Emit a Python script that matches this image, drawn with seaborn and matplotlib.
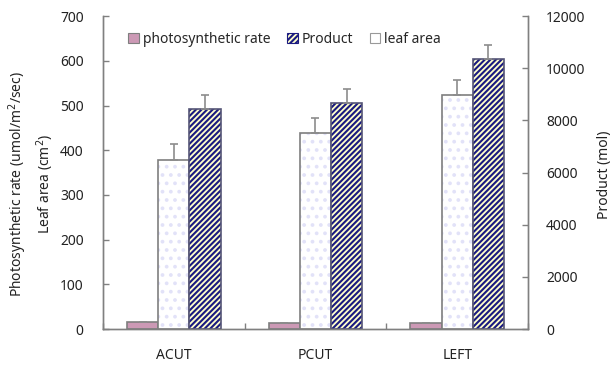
import matplotlib
matplotlib.use("Agg")
import matplotlib.pyplot as plt
from matplotlib.patches import Patch, Rectangle
import numpy as np
import pandas as pd
import seaborn as sns

# Treatments and measured means / standard errors
treatments = ["ACUT", "PCUT", "LEFT"]
photo_rate = [15.5, 13.0, 13.0]          # umol/m2/sec
photo_err = [0.5, 1.0, 1.0]
leaf_area = [379, 439, 524]              # cm2
leaf_err = [35, 33, 33]
product = [8450, 8670, 10360]            # mol
product_err = [540, 540, 540]

series_order = ["photosynthetic rate", "leaf area", "Product"]
left_ticks = [0, 100, 200, 300, 400, 500, 600, 700]
right_ticks = [0, 2000, 4000, 6000, 8000, 10000, 12000]

sns.set_theme(style="white")
plt.rcParams["font.family"] = ["Noto Sans", "DejaVu Sans"]
plt.rcParams["hatch.linewidth"] = 1.5

left_df = pd.DataFrame({
    "treatment": treatments * 2,
    "series": ["photosynthetic rate"] * 3 + ["leaf area"] * 3,
    "value": photo_rate + leaf_area,
})
right_df = pd.DataFrame({
    "treatment": treatments,
    "series": ["Product"] * 3,
    "value": product,
})

fig = plt.figure(figsize=(6.15, 3.65), dpi=100)
ax = fig.add_axes([0.1675, 0.0986, 0.691, 0.857])
ax2 = ax.twinx()

edge_grey = "#7f7f7f"
pink = "#cc99b5"
navy = "#1a1a80"
cream = "#ffffcc"
dot = "#e2e2f8"

# three dodge slots per treatment; left axis fills the first two, right axis the third
sns.barplot(data=left_df, x="treatment", y="value", hue="series",
            order=treatments, hue_order=series_order, width=0.66, dodge=True,
            errorbar=None, legend=False, ax=ax)
sns.barplot(data=right_df, x="treatment", y="value", hue="series",
            order=treatments, hue_order=series_order, width=0.66, dodge=True,
            errorbar=None, legend=False, ax=ax2)


def style_bar(p, face, edge, hatch=None, hatch_color=None, lw=1.2):
    p.set_facecolor(face)
    p.set_linewidth(lw)
    if hatch:
        p.set_hatch(hatch)
        if hasattr(p, "set_hatchcolor"):
            p.set_edgecolor(edge)
            p.set_hatchcolor(hatch_color)
        else:
            p.set_edgecolor(hatch_color)
            p.set_linewidth(0)
            p.axes.add_patch(Rectangle(p.get_xy(), p.get_width(), p.get_height(),
                                       fill=False, edgecolor=edge, linewidth=lw,
                                       zorder=p.get_zorder() + 0.1))
    else:
        p.set_edgecolor(edge)


photo_x, leaf_x = [], []
for c in ax.containers:
    vals = list(c.datavalues)
    if len(vals) != 3:
        continue
    if np.allclose(vals, photo_rate):
        for p in c.patches:
            style_bar(p, pink, edge_grey)
            photo_x.append(p.get_x() + p.get_width() / 2)
    elif np.allclose(vals, leaf_area):
        for p in c.patches:
            style_bar(p, "white", edge_grey, hatch="..", hatch_color=dot)
            leaf_x.append(p.get_x() + p.get_width() / 2)

prod_x = []
for c in ax2.containers:
    for p in c.patches:
        style_bar(p, cream, "#555577", hatch="//////", hatch_color=navy)
        prod_x.append(p.get_x() + p.get_width() / 2)

# upper error bars only
eb_kw = dict(fmt="none", ecolor="#8c8c8c", elinewidth=1.2, capsize=3, capthick=1.2)
ax.errorbar(photo_x, photo_rate, yerr=[np.zeros(3), photo_err], zorder=5, **eb_kw)
ax.errorbar(leaf_x, leaf_area, yerr=[np.zeros(3), leaf_err], zorder=5, **eb_kw)
ax2.errorbar(prod_x, product, yerr=[np.zeros(3), product_err], zorder=5, **eb_kw)

ax.set_ylim(0, 700)
ax2.set_ylim(0, 12000)
ax.set_yticks(left_ticks)
ax2.set_yticks(right_ticks)
ax.set_xlim(-0.5, 2.5)
ax.set_xlabel("")
ax.set_ylabel("")
ax2.set_ylabel("")

spine_col = "#808080"
for a in (ax, ax2):
    for s in a.spines.values():
        s.set_color(spine_col)
        s.set_linewidth(1.0)
    a.spines["top"].set_visible(False)

ax.tick_params(axis="y", direction="in", length=4, width=1, color=spine_col,
               pad=14, labelsize=10, left=True, labelcolor="#222222")
ax2.tick_params(axis="y", direction="in", length=4, width=1, color=spine_col,
                pad=13, labelsize=10, right=True, labelcolor="#222222")
ax.tick_params(axis="x", length=0, pad=14, labelsize=10, labelcolor="#222222")
ax.set_xticks([-0.5, 0.5, 1.5, 2.5], minor=True)
ax.tick_params(axis="x", which="minor", direction="in", length=4, width=1,
               color=spine_col, bottom=True)

fig.text(0.028, 0.497, "Photosynthetic rate (umol/m$^2$/sec)", rotation=90,
         ha="center", va="center", fontsize=10, color="#222222")
fig.text(0.073, 0.497, "Leaf area (cm$^2$)", rotation=90,
         ha="center", va="center", fontsize=10, color="#222222")
fig.text(0.983, 0.52, "Product (mol)", rotation=90,
         ha="center", va="center", fontsize=10, color="#222222")

handles = [
    Patch(facecolor=pink, edgecolor=edge_grey, linewidth=0.8),
    Patch(facecolor=cream, edgecolor=navy, hatch="//////", linewidth=0.8),
    Patch(facecolor="white", edgecolor="#999999", linewidth=0.8),
]
labels = ["photosynthetic rate", "Product", "leaf area"]
ax2.legend(handles, labels, ncol=3, frameon=False, loc="upper left",
           bbox_to_anchor=(0.03, 0.99), handlelength=0.75, handleheight=0.75,
           handletextpad=0.3, columnspacing=1.2, fontsize=10)

fig.savefig("out.png", dpi=100)
